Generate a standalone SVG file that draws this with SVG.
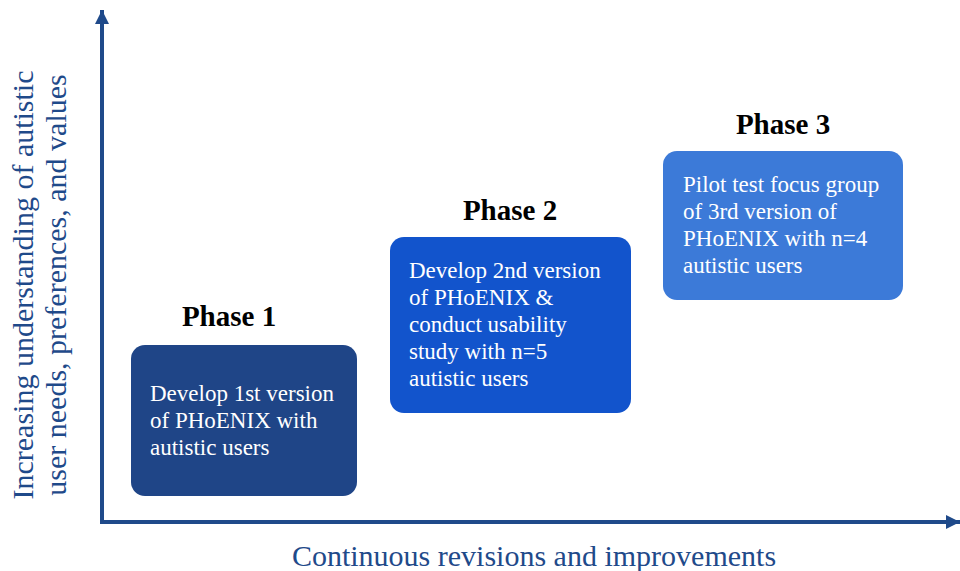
<svg xmlns="http://www.w3.org/2000/svg" width="960" height="571" viewBox="0 0 960 571">
<style>
.axis{stroke:#1F4A8A;stroke-width:4;fill:none}
.body{font-family:"Liberation Serif","Times New Roman",serif;font-size:23px;fill:#FFFFFF}
.phase{font-family:"Liberation Serif","Times New Roman",serif;font-size:29px;font-weight:bold;fill:#000000;text-anchor:middle}
.lbl{font-family:"Liberation Serif","Times New Roman",serif;font-size:30px;fill:#1F4A8A;text-anchor:middle}
</style>
<defs>
<marker id="ah" markerUnits="userSpaceOnUse" markerWidth="16" markerHeight="16" refX="14" refY="8" orient="auto">
<path d="M0,1 L14,8 L0,15 Z" fill="#1F4A8A"/>
</marker>
</defs>
<rect width="960" height="571" fill="#FFFFFF"/>
<g id="connectors">
<line class="axis" x1="102" y1="524" x2="102" y2="10" marker-end="url(#ah)"/>
<line class="axis" x1="100" y1="522" x2="960" y2="522" marker-end="url(#ah)"/>
</g>
<g id="ylabel">
<text class="lbl" transform="translate(33,285) rotate(-90)">Increasing understanding of autistic</text>
<text class="lbl" transform="translate(66,285) rotate(-90)">user needs, preferences, and values</text>
</g>
<text id="xlabel" class="lbl" x="534" y="566">Continuous revisions and improvements</text>
<g id="phase1">
<text class="phase" x="229" y="326">Phase 1</text>
<rect x="131" y="345" width="226" height="151" rx="14" fill="#1F4587"/>
<text class="body" x="150" y="401">Develop 1st version</text>
<text class="body" x="150" y="428">of PHoENIX with</text>
<text class="body" x="150" y="455">autistic users</text>
</g>
<g id="phase2">
<text class="phase" x="510" y="220">Phase 2</text>
<rect x="390" y="237" width="241" height="176" rx="14" fill="#1254CC"/>
<text class="body" x="409" y="278">Develop 2nd version</text>
<text class="body" x="409" y="305">of PHoENIX &amp;</text>
<text class="body" x="409" y="332">conduct usability</text>
<text class="body" x="409" y="359">study with n=5</text>
<text class="body" x="409" y="386">autistic users</text>
</g>
<g id="phase3">
<text class="phase" x="783" y="134">Phase 3</text>
<rect x="663" y="151" width="240" height="149" rx="14" fill="#3C7AD8"/>
<text class="body" x="683" y="192">Pilot test focus group</text>
<text class="body" x="683" y="219">of 3rd version of</text>
<text class="body" x="683" y="246">PHoENIX with n=4</text>
<text class="body" x="683" y="273">autistic users</text>
</g>
</svg>
